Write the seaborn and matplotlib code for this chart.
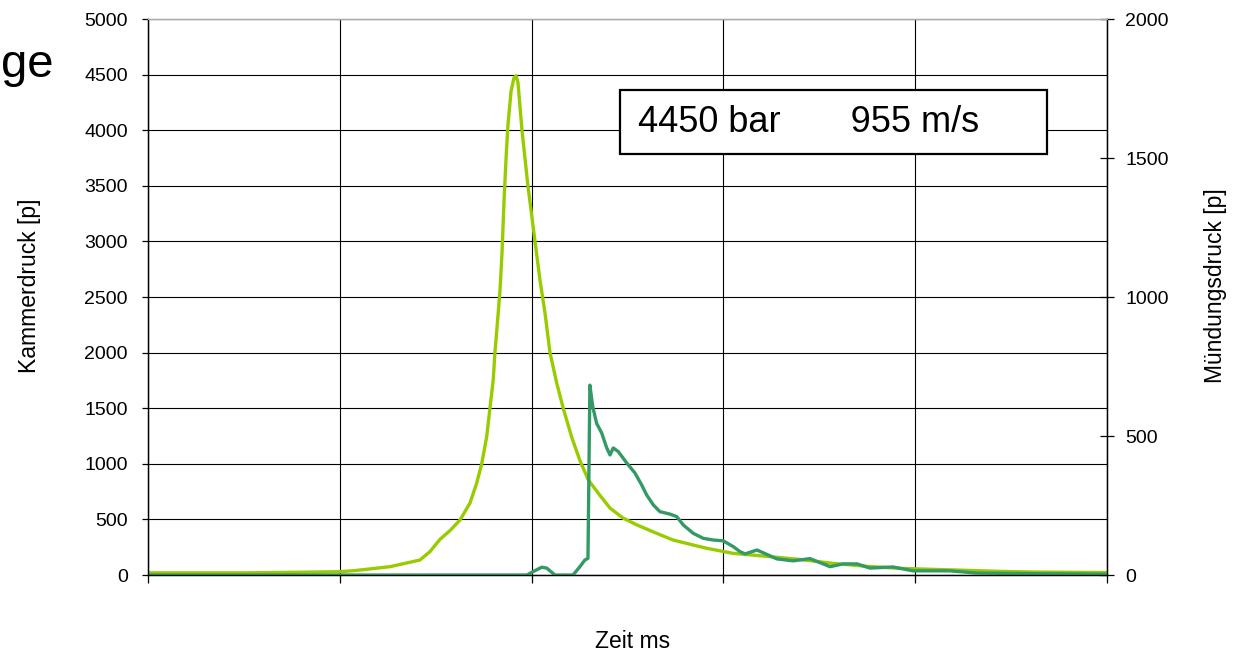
import numpy as np
import pandas as pd
import matplotlib
matplotlib.use("Agg")
import matplotlib.pyplot as plt
from matplotlib.patches import Rectangle
import seaborn as sns

# Kammerdruck (left axis, p) -- time in ms
kammer_t = [0.000, 0.532, 0.792, 1.001, 1.079, 1.262, 1.418, 1.470, 1.522, 1.575,
            1.627, 1.679, 1.714, 1.740, 1.766, 1.783, 1.800, 1.809, 1.826, 1.835,
            1.846, 1.856, 1.867, 1.877, 1.893, 1.908, 1.919, 1.929, 1.950, 1.981,
            2.018, 2.044, 2.070, 2.096, 2.131, 2.165, 2.209, 2.252, 2.296, 2.357,
            2.409, 2.477, 2.550, 2.633, 2.737, 2.842, 2.915, 3.050, 3.227, 3.399,
            3.571, 3.749, 3.921, 4.093, 4.270, 4.442, 4.614, 5.000]
kammer_p = [20, 20, 25, 30, 40, 75, 135, 210, 320, 400,
            495, 648, 827, 1000, 1244, 1500, 1753, 2000, 2356, 2550,
            2900, 3350, 3750, 4050, 4350, 4470, 4490, 4430, 4000, 3500,
            3000, 2650, 2356, 2000, 1727, 1500, 1241, 1030, 854, 715,
            602, 512, 450, 389, 315, 270, 240, 195, 168, 140,
            105, 78, 60, 51, 42, 33, 27, 22]

# Muendungsdruck (right axis, p)
muend_t = [0.000, 1.861, 1.976, 2.007, 2.053, 2.079, 2.122, 2.216, 2.252, 2.278,
           2.294, 2.304, 2.319, 2.339, 2.366, 2.392, 2.409, 2.426, 2.452, 2.496,
           2.539, 2.574, 2.600, 2.635, 2.669, 2.722, 2.757, 2.791, 2.843, 2.895,
           2.947, 2.999, 3.052, 3.087, 3.113, 3.175, 3.279, 3.363, 3.452, 3.556,
           3.624, 3.697, 3.764, 3.884, 3.989, 4.181, 4.322, 4.614, 5.000]
muend_p = [0, 0, 0, 12, 28, 25, 0, 0, 30, 54,
           60, 683, 605, 546, 510, 457, 432, 457, 444, 403,
           367, 324, 288, 252, 228, 219, 210, 180, 150, 132,
           126, 123, 102, 84, 76, 90, 58, 51, 59, 30,
           40, 40, 25, 29, 15, 15, 7, 5, 3]

left_ticks = list(range(0, 5001, 500))
right_ticks = list(range(0, 2001, 500))
x_ticks = [0, 1, 2, 3, 4, 5]

sns.set_theme(style="white")
plt.rcParams['font.family'] = ['Liberation Sans', 'DejaVu Sans']

fig = plt.figure(figsize=(12.38, 6.58), dpi=100)
ax = fig.add_axes([0.1195, 0.1261, 0.7747, 0.8450])
ax2 = ax.twinx()

sns.lineplot(x=kammer_t, y=kammer_p, ax=ax, color='#99CC00', lw=2.4)
sns.lineplot(x=muend_t, y=muend_p, ax=ax2, color='#339966', lw=2.4)

ax.set_xlim(0, 5)
ax.set_ylim(0, 5000)
ax2.set_ylim(0, 2000)
ax.set_xticks(x_ticks)
ax.set_yticks(left_ticks)
ax2.set_yticks(right_ticks)
ax.set_xticklabels([])

ax.grid(True, color='black', lw=0.8)
ax2.grid(False)

for a in (ax, ax2):
    for s in a.spines.values():
        s.set_color('black')
        s.set_linewidth(0.9)
    a.spines['top'].set_color('#aaaaaa')

ax.tick_params(axis='x', direction='out', length=6, width=0.9, color='black',
               bottom=True, labelbottom=False)
ax.tick_params(axis='y', direction='out', length=4.5, width=0.9, color='black',
               left=True, labelsize=14, pad=10, labelcolor='black')
ax2.tick_params(axis='y', direction='inout', length=10, width=0.9, color='black',
                right=True, labelsize=14, pad=8, labelcolor='black')

ax.set_xlabel('Zeit ms', fontsize=16.5, color='black')
ax.set_ylabel('Kammerdruck [p]', fontsize=16.5, color='black')
ax2.set_ylabel('Mündungsdruck [p]', fontsize=16.5, color='black')
ax.xaxis.set_label_coords(0.505, -0.099)
ax.yaxis.set_label_coords(-0.1116, 0.52)
ax2.yaxis.set_label_coords(1.101, 0.52)

# cut-off title fragment at the top left
fig.text(0.001, 1 - 77 / 658, 'ge', fontsize=34, va='baseline', ha='left', color='black')

# result box
fig.patches.append(Rectangle((620 / 1238, 1 - 154 / 658), 427 / 1238, 64 / 658,
                             transform=fig.transFigure, facecolor='white',
                             edgecolor='black', lw=1.6, zorder=5))
fig.text(638 / 1238, 1 - 122 / 658, '4450 bar       955 m/s', fontsize=26,
         va='center', ha='left', color='black', zorder=6)

fig.savefig('out.png', dpi=100)
